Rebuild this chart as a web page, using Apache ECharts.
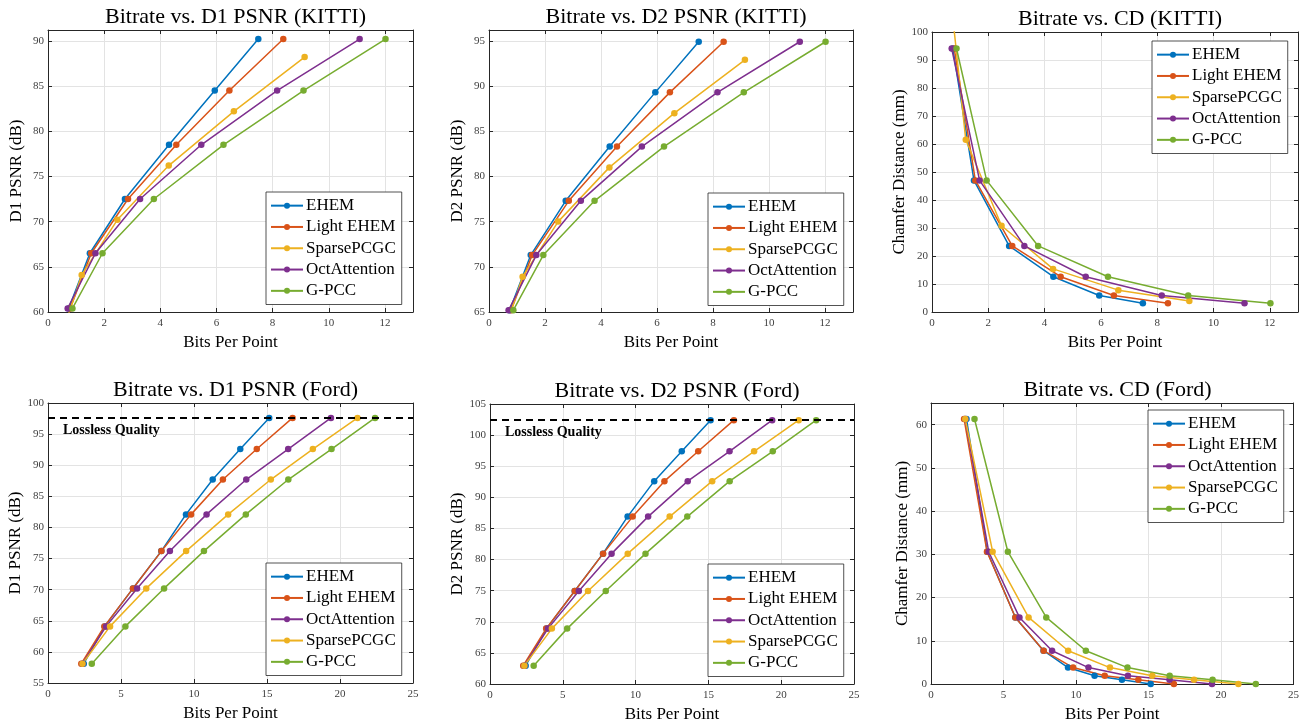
<!DOCTYPE html>
<html>
<head>
<meta charset="utf-8">
<script src="https://cdn.jsdelivr.net/npm/echarts@6/dist/echarts.min.js"></script>
<style>
html,body{margin:0;padding:0;background:#fff;}
#chart{width:1302px;height:724px;}
</style>
</head>
<body>
<div id="chart"></div>
<script>
// ---------------- DATA ----------------
const kittiOrder = ['EHEM', 'Light EHEM', 'SparsePCGC', 'OctAttention', 'G-PCC'];
const fordOrder = ['EHEM', 'Light EHEM', 'OctAttention', 'SparsePCGC', 'G-PCC'];

// KITTI bitrates (bits per point)
const kittiBppEHEM   = [0.74, 1.49, 2.74, 4.31, 5.94, 7.49];
const kittiBppLight  = [0.79, 1.54, 2.85, 4.57, 6.46, 8.38];
const kittiBppSparse = [0.55, 1.20, 2.47, 4.30, 6.62, 9.14];
const kittiBppOct    = [0.70, 1.69, 3.28, 5.46, 8.16, 11.10];
const kittiBppGPCC   = [0.87, 1.94, 3.77, 6.25, 9.10, 12.02];
// KITTI quality
const kittiD1       = [60.4, 66.5, 72.5, 78.5, 84.5, 90.2];
const kittiD1Sparse = [58.1, 64.1, 70.2, 76.2, 82.2, 88.2];
const kittiD2       = [65.2, 71.3, 77.3, 83.3, 89.3, 94.9];
const kittiD2Sparse = [62.9, 68.9, 75.0, 81.0, 87.0, 92.9];
const kittiCD       = [94.1, 47.0, 23.6, 12.6, 5.9, 3.1];
const kittiCDSparse = [123.0, 61.5, 30.8, 15.4, 7.8, 3.9];

// Ford bitrates (bits per point)
const fordBppEHEM   = [2.45, 3.88, 5.82, 7.76, 9.45, 11.28, 13.17, 15.15];
const fordBppLight  = [2.28, 3.86, 5.82, 7.77, 9.80, 11.98, 14.30, 16.75];
const fordBppOct    = [2.36, 3.98, 6.10, 8.35, 10.86, 13.58, 16.45, 19.38];
const fordBppSparse = [2.36, 4.25, 6.73, 9.46, 12.34, 15.26, 18.14, 21.20];
const fordBppGPCC   = [3.00, 5.30, 7.95, 10.68, 13.55, 16.46, 19.42, 22.40];
// Ford quality
const fordD1 = [58.1, 64.1, 70.2, 76.2, 82.1, 87.7, 92.6, 97.6];
const fordD2 = [62.95, 68.9, 74.95, 80.95, 86.9, 92.6, 97.4, 102.4];
const fordCD = [61.3, 30.6, 15.4, 7.7, 3.8, 1.9, 1.0, 0.0];
const losslessD1 = 97.6;
const losslessD2 = 102.4;

// ---------------- STYLE ----------------
const SERIF = "'Liberation Serif','Times New Roman',serif";
const COLORS = {
  'EHEM': '#0072BD',
  'Light EHEM': '#D95319',
  'SparsePCGC': '#EDB120',
  'OctAttention': '#7E2F8E',
  'G-PCC': '#77AC30'
};
const zip = (xs, ys) => xs.map((x, i) => [x, ys[i]]);

const panels = [
  {
    title: 'Bitrate vs. D1 PSNR (KITTI)', yName: 'D1 PSNR (dB)',
    grid: {left: 48, top: 30, width: 365, height: 282},
    x: [0, 13, 2], y: [60, 91.2, 5], order: kittiOrder,
    legend: {left: 266, top: 192},
    data: {
      'EHEM': zip(kittiBppEHEM, kittiD1), 'Light EHEM': zip(kittiBppLight, kittiD1),
      'SparsePCGC': zip(kittiBppSparse, kittiD1Sparse), 'OctAttention': zip(kittiBppOct, kittiD1),
      'G-PCC': zip(kittiBppGPCC, kittiD1)
    }
  },
  {
    title: 'Bitrate vs. D2 PSNR (KITTI)', yName: 'D2 PSNR (dB)',
    grid: {left: 489, top: 30, width: 364, height: 282},
    x: [0, 13, 2], y: [65, 96.2, 5], order: kittiOrder,
    legend: {left: 708, top: 193},
    data: {
      'EHEM': zip(kittiBppEHEM, kittiD2), 'Light EHEM': zip(kittiBppLight, kittiD2),
      'SparsePCGC': zip(kittiBppSparse, kittiD2Sparse), 'OctAttention': zip(kittiBppOct, kittiD2),
      'G-PCC': zip(kittiBppGPCC, kittiD2)
    }
  },
  {
    title: 'Bitrate vs. CD (KITTI)', yName: 'Chamfer Distance (mm)',
    grid: {left: 932, top: 32, width: 366, height: 280},
    x: [0, 13, 2], y: [0, 100, 10], order: kittiOrder,
    legend: {left: 1152, top: 41},
    data: {
      'EHEM': zip(kittiBppEHEM, kittiCD), 'Light EHEM': zip(kittiBppLight, kittiCD),
      'SparsePCGC': zip(kittiBppSparse, kittiCDSparse), 'OctAttention': zip(kittiBppOct, kittiCD),
      'G-PCC': zip(kittiBppGPCC, kittiCD)
    }
  },
  {
    title: 'Bitrate vs. D1 PSNR (Ford)', yName: 'D1 PSNR (dB)',
    grid: {left: 48, top: 403, width: 365, height: 280},
    x: [0, 25, 5], y: [55, 100, 5], order: fordOrder,
    legend: {left: 266, top: 563}, lossless: losslessD1,
    data: {
      'EHEM': zip(fordBppEHEM, fordD1), 'Light EHEM': zip(fordBppLight, fordD1),
      'OctAttention': zip(fordBppOct, fordD1), 'SparsePCGC': zip(fordBppSparse, fordD1),
      'G-PCC': zip(fordBppGPCC, fordD1)
    }
  },
  {
    title: 'Bitrate vs. D2 PSNR (Ford)', yName: 'D2 PSNR (dB)',
    grid: {left: 490, top: 404, width: 364, height: 280},
    x: [0, 25, 5], y: [60, 105, 5], order: fordOrder,
    legend: {left: 708, top: 564}, lossless: losslessD2,
    data: {
      'EHEM': zip(fordBppEHEM, fordD2), 'Light EHEM': zip(fordBppLight, fordD2),
      'OctAttention': zip(fordBppOct, fordD2), 'SparsePCGC': zip(fordBppSparse, fordD2),
      'G-PCC': zip(fordBppGPCC, fordD2)
    }
  },
  {
    title: 'Bitrate vs. CD (Ford)', yName: 'Chamfer Distance (mm)',
    grid: {left: 931, top: 403, width: 363, height: 281},
    x: [0, 25, 5], y: [0, 65, 10], order: fordOrder,
    legend: {left: 1148, top: 410},
    data: {
      'EHEM': zip(fordBppEHEM, fordCD), 'Light EHEM': zip(fordBppLight, fordCD),
      'OctAttention': zip(fordBppOct, fordCD), 'SparsePCGC': zip(fordBppSparse, fordCD),
      'G-PCC': zip(fordBppGPCC, fordCD)
    }
  }
];

const AX = '#262626';
const grids = [], xAxes = [], yAxes = [], series = [], titles = [], legends = [];

panels.forEach((p, i) => {
  grids.push(Object.assign({containLabel: false}, p.grid));
  const cx = p.grid.left + p.grid.width / 2;
  titles.push({
    text: p.title, left: cx, top: p.grid.top - 29, textAlign: 'center',
    textStyle: {fontFamily: SERIF, fontSize: 22, fontWeight: 'normal', color: '#000'}
  });
  const common = {
    gridIndex: i, type: 'value',
    axisLine: {show: true, onZero: false, lineStyle: {color: AX, width: 1}},
    axisTick: {show: true, inside: true, length: 4, lineStyle: {color: AX}},
  };
  xAxes.push(Object.assign({}, common, {
    position: 'bottom', min: p.x[0], max: p.x[1], interval: p.x[2],
    name: 'Bits Per Point', nameLocation: 'middle', nameGap: 22,
    nameTextStyle: {fontFamily: SERIF, fontSize: 17, color: '#000'},
    axisLabel: {show: true, margin: 6, fontFamily: SERIF, fontSize: 11, color: '#404040', showMaxLabel: p.x[1] % p.x[2] === 0},
    splitLine: {show: true, lineStyle: {color: '#e3e3e3', width: 1}}
  }));
  xAxes.push(Object.assign({}, common, {
    position: 'top', min: p.x[0], max: p.x[1], interval: p.x[2],
    axisLabel: {show: false}, splitLine: {show: false}
  }));
  yAxes.push(Object.assign({}, common, {
    position: 'left', min: p.y[0], max: p.y[1], interval: p.y[2],
    name: p.yName, nameLocation: 'middle', nameGap: i % 3 === 2 ? 20 : 23, nameRotate: 90,
    nameTextStyle: {fontFamily: SERIF, fontSize: 17, color: '#000'},
    axisLabel: {show: true, margin: 4, fontFamily: SERIF, fontSize: 11, color: '#404040', showMaxLabel: p.y[1] % p.y[2] === 0},
    splitLine: {show: true, lineStyle: {color: '#e3e3e3', width: 1}}
  }));
  yAxes.push(Object.assign({}, common, {
    position: 'right', min: p.y[0], max: p.y[1], interval: p.y[2],
    axisLabel: {show: false}, splitLine: {show: false}
  }));

  p.order.forEach((name, k) => {
    const s = {
      type: 'line', name: name, xAxisIndex: 2 * i, yAxisIndex: 2 * i,
      data: p.data[name], clip: true, animation: false,
      symbol: 'circle', symbolSize: 6.5, showSymbol: true,
      lineStyle: {color: COLORS[name], width: 1.5},
      itemStyle: {color: COLORS[name]},
      z: 3
    };
    if (p.lossless !== undefined && k === 0) {
      s.markLine = {
        silent: true, symbol: ['none', 'none'], animation: false,
        data: [{yAxis: p.lossless}],
        lineStyle: {color: '#000', width: 2, type: [7, 5]},
        label: {
          show: true, position: 'insideStartBottom', formatter: 'Lossless Quality',
          fontFamily: SERIF, fontSize: 14, fontWeight: 'bold', color: '#000',
          distance: [15, 5]
        }
      };
    }
    series.push(s);
  });

  legends.push({
    left: p.legend.left, top: p.legend.top, orient: 'vertical',
    data: p.order, itemWidth: 32, itemHeight: 7.5, itemGap: 0,
    padding: [3, 6, 3, 4],
    borderColor: '#262626', borderWidth: 0.8, backgroundColor: '#fff',
    selectedMode: false,
    textStyle: {fontFamily: SERIF, fontSize: 17, color: '#000', lineHeight: 21.3, padding: [0, 0, 0, -2]}
  });
});

const chart = echarts.init(document.getElementById('chart'), null, {renderer: 'canvas'});
chart.setOption({
  animation: false,
  backgroundColor: '#fff',
  title: titles,
  grid: grids,
  xAxis: xAxes,
  yAxis: yAxes,
  legend: legends,
  series: series
});
</script>
</body>
</html>
